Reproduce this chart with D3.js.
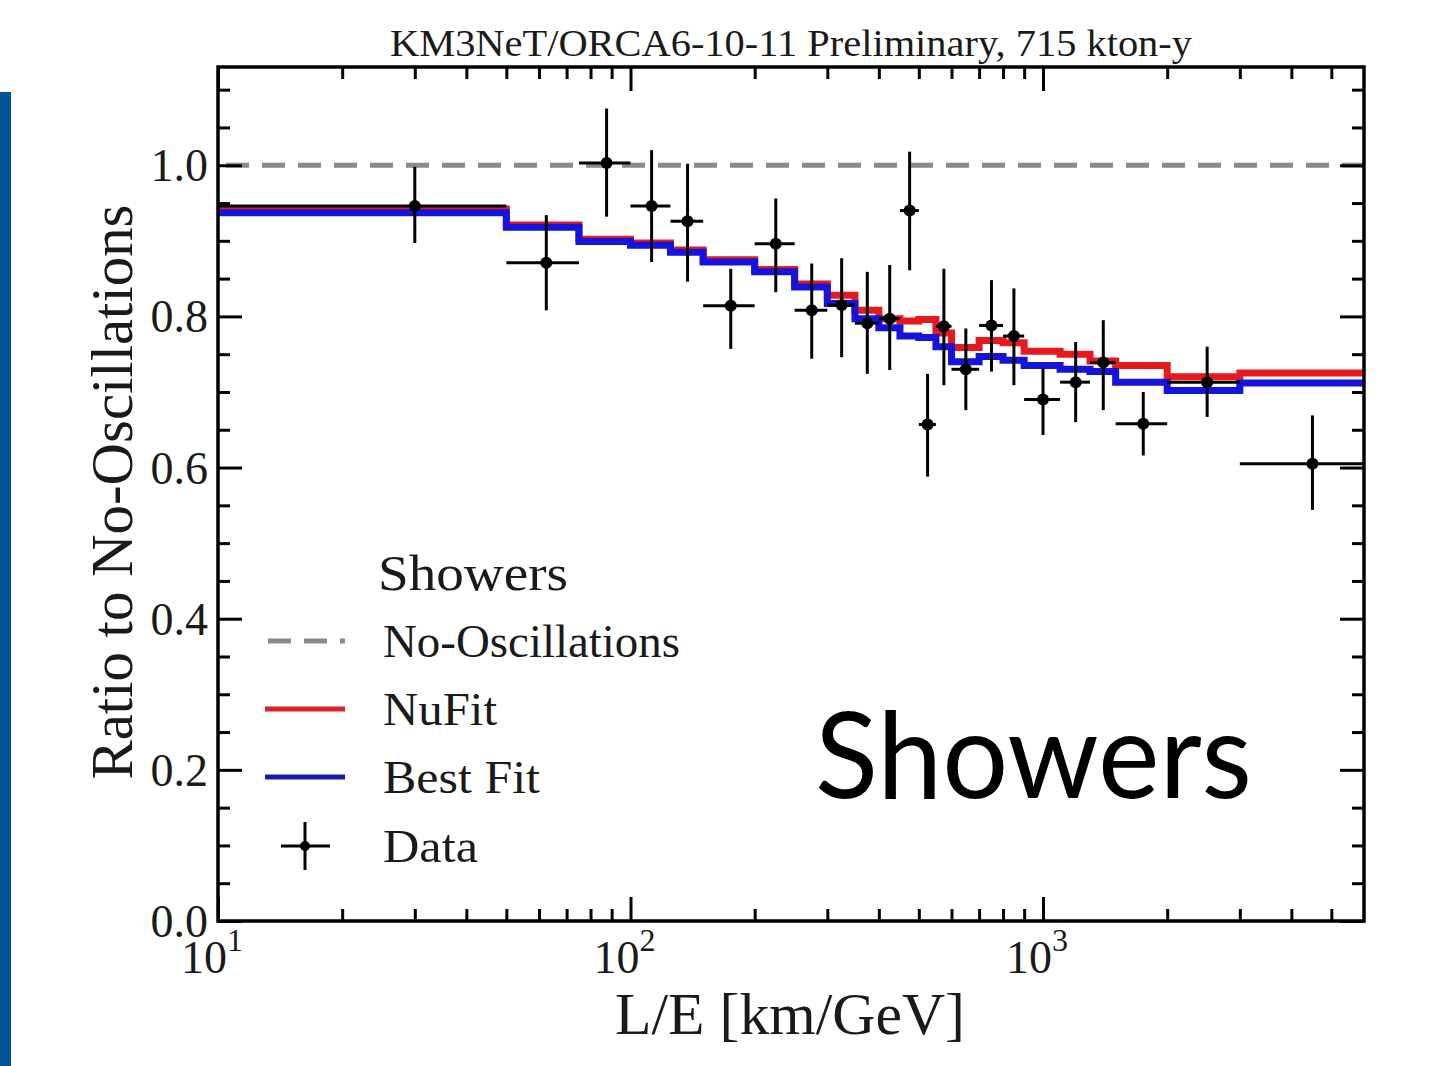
<!DOCTYPE html>
<html>
<head>
<meta charset="utf-8">
<title>Showers ratio</title>
<script src="https://cdn.jsdelivr.net/npm/d3@7/dist/d3.min.js"></script>
<style>
  body { margin: 0; background: #fff; }
  text { font-family: "Liberation Serif", "DejaVu Serif", serif; fill: #1a1a1a; }
</style>
</head>
<body>
<div id="chart"></div>
<script>
// bin edges of L/E [km/GeV]
var binEdges = [10, 50, 75, 100, 125, 150, 200, 250, 300, 350, 400, 450, 500, 550, 600, 700, 800, 900, 1100, 1300, 1500, 2000, 3000, 6000];

// model curves, one value per bin
var nufit   = [0.942, 0.921, 0.902, 0.897, 0.888, 0.875, 0.862, 0.843, 0.828, 0.808, 0.797, 0.794, 0.796, 0.778, 0.759, 0.768, 0.765, 0.754, 0.750, 0.741, 0.735, 0.720, 0.725];
var bestfit = [0.937, 0.918, 0.899, 0.894, 0.885, 0.872, 0.859, 0.839, 0.817, 0.797, 0.785, 0.774, 0.772, 0.760, 0.740, 0.747, 0.742, 0.735, 0.730, 0.727, 0.713, 0.702, 0.712];

// data points
var dataX   = [30, 62.5, 87.5, 112.5, 137.5, 175, 225, 275, 325, 375, 425, 475, 525, 575, 650, 750, 850, 1000, 1200, 1400, 1750, 2500, 4500];
var dataY   = [0.946, 0.871, 1.003, 0.946, 0.926, 0.814, 0.896, 0.808, 0.815, 0.791, 0.797, 0.940, 0.657, 0.787, 0.730, 0.788, 0.774, 0.690, 0.713, 0.739, 0.658, 0.713, 0.605];
var dataLo  = [0.897, 0.808, 0.932, 0.872, 0.846, 0.757, 0.832, 0.744, 0.746, 0.724, 0.729, 0.861, 0.588, 0.709, 0.676, 0.727, 0.709, 0.643, 0.660, 0.676, 0.616, 0.667, 0.544];
var dataHi  = [0.998, 0.934, 1.075, 1.020, 1.002, 0.863, 0.956, 0.870, 0.877, 0.859, 0.868, 1.018, 0.724, 0.863, 0.784, 0.848, 0.837, 0.731, 0.766, 0.795, 0.700, 0.760, 0.669];

var yTicks = [0.0, 0.2, 0.4, 0.6, 0.8, 1.0];
var xTicks = [10, 100, 1000];
var xExps  = ["1", "2", "3"];
var legendNames = ["No-Oscillations", "NuFit", "Best Fit", "Data"];

var W = 1435, H = 1066;
var pL = 218, pR = 1364, pT = 67, pB = 921;

var svg = d3.select("#chart").append("svg")
	.attr("width", W)
	.attr("height", H);

svg.append("rect").attr("width", W).attr("height", H).attr("fill", "#fff");

// blue slide bar on the left
svg.append("rect")
	.attr("x", 0).attr("y", 92).attr("width", 11).attr("height", H - 92)
	.attr("fill", "#05549a");

var x = d3.scaleLog().domain([10, 6000]).range([pL, pR]);
var y = d3.scaleLinear().domain([0, 1.13]).range([pB, pT]);

svg.append("clipPath").attr("id", "plotclip")
	.append("rect").attr("x", pL).attr("y", pT)
	.attr("width", pR - pL).attr("height", pB - pT);

var plot = svg.append("g").attr("clip-path", "url(#plotclip)");

// no-oscillation reference
plot.append("line")
	.attr("x1", pL).attr("x2", pR)
	.attr("y1", y(1)).attr("y2", y(1))
	.attr("stroke", "#8a8a8a").attr("stroke-width", 5)
	.attr("stroke-dasharray", "23,13").attr("stroke-dashoffset", -8);

// step curves
function steps(vals) {
	var pts = vals.map(function(v, i) { return [binEdges[i], v]; });
	pts.push([binEdges[binEdges.length - 1], vals[vals.length - 1]]);
	return pts;
}
var stepLine = d3.line()
	.x(function(d) { return x(d[0]); })
	.y(function(d) { return y(d[1]); })
	.curve(d3.curveStepAfter);

plot.append("path").datum(steps(nufit))
	.attr("d", stepLine).attr("fill", "none")
	.attr("stroke", "#e8191c").attr("stroke-width", 7);
plot.append("path").datum(steps(bestfit))
	.attr("d", stepLine).attr("fill", "none")
	.attr("stroke", "#1414dc").attr("stroke-width", 7);

// data with error bars
var pts = dataX.map(function(d, i) {
	return { x: d, y: dataY[i], lo: dataLo[i], hi: dataHi[i], x0: binEdges[i], x1: binEdges[i + 1] };
});
var g = plot.selectAll("g.pt").data(pts).enter().append("g").attr("class", "pt");
g.append("line")
	.attr("x1", function(d) { return x(d.x0); })
	.attr("x2", function(d) { return x(d.x1); })
	.attr("y1", function(d) { return y(d.y); })
	.attr("y2", function(d) { return y(d.y); })
	.attr("stroke", "#000").attr("stroke-width", 3);
g.append("line")
	.attr("x1", function(d) { return x(d.x); })
	.attr("x2", function(d) { return x(d.x); })
	.attr("y1", function(d) { return y(d.lo); })
	.attr("y2", function(d) { return y(d.hi); })
	.attr("stroke", "#000").attr("stroke-width", 3);
g.append("circle")
	.attr("cx", function(d) { return x(d.x); })
	.attr("cy", function(d) { return y(d.y); })
	.attr("r", 6).attr("fill", "#000");

// axes: ticks point inwards on all sides
var xMinor = [];
[10, 100, 1000].forEach(function(dec) {
	for (var k = 2; k <= 9; k++) if (dec * k < 6000) xMinor.push(dec * k);
});
var yMinor = d3.range(0, 23).map(function(i) { return +(i * 0.05).toFixed(2); })
	.filter(function(v) { return yTicks.indexOf(v) < 0; });

function styleAxis(sel) {
	sel.select(".domain").remove();
	sel.selectAll(".tick line").attr("stroke", "#000").attr("stroke-width", 3);
	sel.selectAll(".tick text").remove();
}
var majorLen = 24, minorLen = 12;
svg.append("g").attr("transform", "translate(0," + pB + ")")
	.call(d3.axisBottom(x).tickValues(xTicks).tickSize(-majorLen)).call(styleAxis);
svg.append("g").attr("transform", "translate(0," + pB + ")")
	.call(d3.axisBottom(x).tickValues(xMinor).tickSize(-minorLen)).call(styleAxis);
svg.append("g").attr("transform", "translate(0," + pT + ")")
	.call(d3.axisTop(x).tickValues(xTicks).tickSize(-majorLen)).call(styleAxis);
svg.append("g").attr("transform", "translate(0," + pT + ")")
	.call(d3.axisTop(x).tickValues(xMinor).tickSize(-minorLen)).call(styleAxis);
svg.append("g").attr("transform", "translate(" + pL + ",0)")
	.call(d3.axisLeft(y).tickValues(yTicks).tickSize(-majorLen)).call(styleAxis);
svg.append("g").attr("transform", "translate(" + pL + ",0)")
	.call(d3.axisLeft(y).tickValues(yMinor).tickSize(-minorLen)).call(styleAxis);
svg.append("g").attr("transform", "translate(" + pR + ",0)")
	.call(d3.axisRight(y).tickValues(yTicks).tickSize(-majorLen)).call(styleAxis);
svg.append("g").attr("transform", "translate(" + pR + ",0)")
	.call(d3.axisRight(y).tickValues(yMinor).tickSize(-minorLen)).call(styleAxis);

// frame
svg.append("rect")
	.attr("x", pL).attr("y", pT)
	.attr("width", pR - pL).attr("height", pB - pT)
	.attr("fill", "none").attr("stroke", "#000").attr("stroke-width", 3.5);

// tick labels
svg.selectAll("text.ylab").data(yTicks).enter().append("text")
	.attr("class", "ylab")
	.attr("x", pL - 10)
	.attr("y", function(d) { return y(d) + 16; })
	.attr("text-anchor", "end")
	.attr("font-size", 46)
	.text(function(d) { return d.toFixed(1); });

var xl = svg.selectAll("text.xlab").data(xTicks).enter().append("text")
	.attr("class", "xlab")
	.attr("x", function(d) { return x(d) - 6; })
	.attr("y", 973)
	.attr("text-anchor", "middle")
	.attr("font-size", 46);
xl.append("tspan").text("10");
xl.append("tspan").attr("dy", -22).attr("font-size", 32)
	.text(function(d, i) { return xExps[i]; });

// axis titles
svg.append("text")
	.attr("x", 790).attr("y", 1034)
	.attr("text-anchor", "middle")
	.attr("font-size", 60)
	.attr("textLength", 350).attr("lengthAdjust", "spacingAndGlyphs")
	.text("L/E [km/GeV]");

svg.append("text")
	.attr("transform", "translate(132,492) rotate(-90)")
	.attr("text-anchor", "middle")
	.attr("font-size", 60)
	.attr("textLength", 575).attr("lengthAdjust", "spacingAndGlyphs")
	.text("Ratio to No-Oscillations");

svg.append("text")
	.attr("x", 791).attr("y", 56)
	.attr("text-anchor", "middle")
	.attr("font-size", 38)
	.attr("fill", "#333")
	.attr("textLength", 802).attr("lengthAdjust", "spacingAndGlyphs")
	.text("KM3NeT/ORCA6-10-11 Preliminary, 715 kton-y");

// legend
var lg = svg.append("g");
lg.append("text").attr("x", 378).attr("y", 590)
	.attr("font-size", 50)
	.attr("textLength", 190).attr("lengthAdjust", "spacingAndGlyphs")
	.text("Showers");

var rowY = [641, 709, 777, 846];
var textLens = [297, 114, 157, 95];
legendNames.forEach(function(name, i) {
	lg.append("text").attr("x", 383).attr("y", rowY[i] + 16)
		.attr("font-size", 46)
		.attr("textLength", textLens[i]).attr("lengthAdjust", "spacingAndGlyphs")
		.text(name);
});
lg.append("line").attr("x1", 268).attr("x2", 345).attr("y1", rowY[0]).attr("y2", rowY[0])
	.attr("stroke", "#8a8a8a").attr("stroke-width", 5).attr("stroke-dasharray", "23,13");
lg.append("line").attr("x1", 265).attr("x2", 345).attr("y1", rowY[1]).attr("y2", rowY[1])
	.attr("stroke", "#d8232a").attr("stroke-width", 5);
lg.append("line").attr("x1", 265).attr("x2", 345).attr("y1", rowY[2]).attr("y2", rowY[2])
	.attr("stroke", "#1a1aa8").attr("stroke-width", 5);
lg.append("line").attr("x1", 281).attr("x2", 330).attr("y1", rowY[3]).attr("y2", rowY[3])
	.attr("stroke", "#000").attr("stroke-width", 3);
lg.append("line").attr("x1", 305).attr("x2", 305).attr("y1", rowY[3] - 24).attr("y2", rowY[3] + 24)
	.attr("stroke", "#000").attr("stroke-width", 3);
lg.append("circle").attr("cx", 305).attr("cy", rowY[3]).attr("r", 5).attr("fill", "#000");

// big overlay label
svg.append("text")
	.attr("x", 815).attr("y", 798)
	.style("font-family", "Lato, 'Noto Sans', sans-serif")
	.style("fill", "#000")
	.attr("font-size", 120)
	.attr("textLength", 437).attr("lengthAdjust", "spacingAndGlyphs")
	.text("Showers");
</script>
</body>
</html>
